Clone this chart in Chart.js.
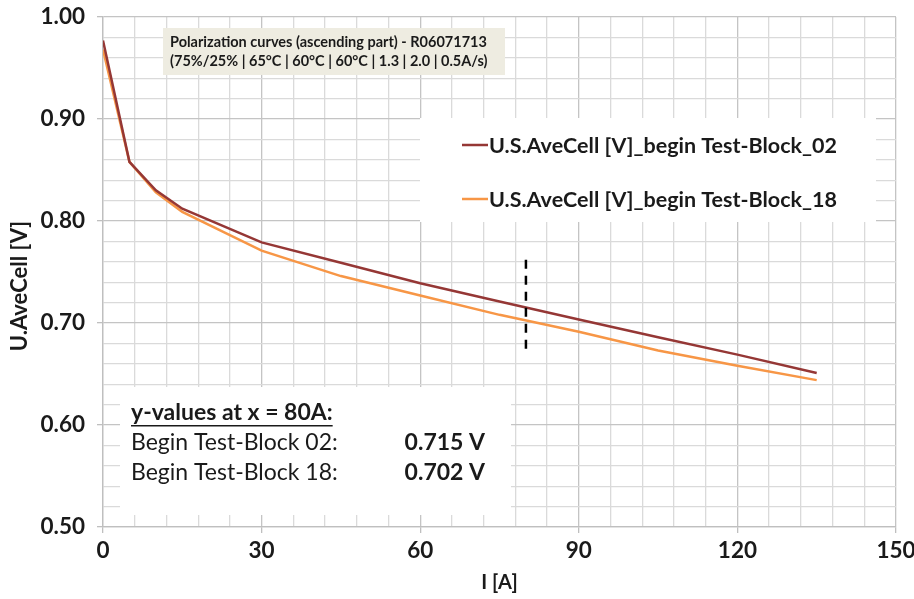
<!DOCTYPE html>
<html>
<head>
<meta charset="utf-8">
<script src="https://cdn.jsdelivr.net/npm/chart.js@4/dist/chart.umd.min.js"></script>
<style>
  html, body { margin: 0; padding: 0; background: #fff; }
  canvas { display: block; }
</style>
</head>
<body>
<canvas id="polChart" width="914" height="599"></canvas>
<script>
// current steps [A]
const currents = [0, 5, 10, 15, 30, 45, 60, 75, 90, 105, 120, 135];
// average cell voltage [V] per test block
const voltBlock02 = [0.977, 0.858, 0.830, 0.812, 0.779, 0.759, 0.739, 0.721, 0.7035, 0.686, 0.669, 0.651];
const voltBlock18 = [0.968, 0.858, 0.828, 0.809, 0.771, 0.746, 0.727, 0.708, 0.6915, 0.673, 0.658, 0.644];
const seriesNames = ['U.S.AveCell [V]_begin Test-Block_02', 'U.S.AveCell [V]_begin Test-Block_18'];

// vertical marker at 80 A
const markerX = [80, 80];
const markerY = [0.762, 0.670];

const infoTitle = ['Polarization curves (ascending part) - R06071713', '(75%/25% | 65°C | 60°C | 60°C | 1.3 | 2.0 | 0.5A/s)'];
const infoHead = 'y-values at x = 80A:';
const infoRows = [['Begin Test-Block 02:', '0.715 V'], ['Begin Test-Block 18:', '0.702 V']];

const xTicks = [0, 30, 60, 90, 120, 150];
const yTicks = [0.5, 0.6, 0.7, 0.8, 0.9, 1.0];
const yTitle = 'U.AveCell [V]';

const FONT = 'Lato, "Liberation Sans", sans-serif';
const C02 = '#953735';
const C18 = '#f79646';
const TXT = '#1a1a1a';

function toPoints(xs, ys) {
  return xs.map((x, i) => ({ x: x, y: ys[i] }));
}
function isMajorX(v) { return xTicks.some(t => Math.abs(t - v) < 1e-6); }
function isMajorY(v) { return yTicks.some(t => Math.abs(t - v) < 1e-6); }

// boxes drawn over the grid, under the curves
const boxesPlugin = {
  id: 'boxes',
  beforeDatasetsDraw(chart) {
    const ctx = chart.ctx;
    ctx.save();
    ctx.textBaseline = 'middle';
    ctx.textAlign = 'left';

    // header box
    ctx.fillStyle = '#eeece1';
    ctx.fillRect(163, 28, 342, 47);
    ctx.fillStyle = TXT;
    ctx.font = 'bold 14.5px ' + FONT;
    ctx.fillText(infoTitle[0], 170, 42);
    ctx.fillText(infoTitle[1], 170, 61);

    // legend box
    ctx.fillStyle = '#ffffff';
    ctx.fillRect(420, 118, 456, 104);
    const legY = [145, 199];
    const legCol = [C02, C18];
    ctx.font = 'bold 21.5px ' + FONT;
    for (let i = 0; i < 2; i++) {
      ctx.strokeStyle = legCol[i];
      ctx.lineWidth = 2.5;
      ctx.beginPath();
      ctx.moveTo(462, legY[i]);
      ctx.lineTo(488, legY[i]);
      ctx.stroke();
      ctx.fillStyle = TXT;
      ctx.fillText(seriesNames[i], 489, legY[i] + 1);
    }

    // values at 80 A
    ctx.fillStyle = '#ffffff';
    ctx.fillRect(120, 387, 391, 128);
    ctx.fillStyle = TXT;
    ctx.font = 'bold 23px ' + FONT;
    ctx.fillText(infoHead, 131, 413);
    const w = ctx.measureText(infoHead).width;
    ctx.fillRect(131, 425, w, 1.5);
    const rowY = [443, 473];
    for (let i = 0; i < infoRows.length; i++) {
      ctx.font = '23px ' + FONT;
      ctx.textAlign = 'left';
      ctx.fillText(infoRows[i][0], 131, rowY[i]);
      ctx.font = 'bold 23px ' + FONT;
      ctx.textAlign = 'right';
      ctx.fillText(infoRows[i][1], 485, rowY[i]);
    }
    ctx.restore();
  },
  afterDraw(chart) {
    // y-axis title, sits a bit below the axis centre
    const ctx = chart.ctx;
    ctx.save();
    ctx.translate(20, 286);
    ctx.rotate(-Math.PI / 2);
    ctx.fillStyle = TXT;
    ctx.font = 'bold 22px ' + FONT;
    ctx.textAlign = 'center';
    ctx.textBaseline = 'middle';
    ctx.fillText(yTitle, 0, 0);
    ctx.restore();
  }
};

const ctx = document.getElementById('polChart').getContext('2d');
new Chart(ctx, {
  type: 'scatter',
  data: {
    datasets: [
      {
        label: seriesNames[0],
        data: toPoints(currents, voltBlock02),
        showLine: true,
        borderColor: C02,
        borderWidth: 2.5,
        pointRadius: 0,
        order: 2
      },
      {
        label: seriesNames[1],
        data: toPoints(currents, voltBlock18),
        showLine: true,
        borderColor: C18,
        borderWidth: 2.5,
        pointRadius: 0,
        order: 3
      },
      {
        label: 'x = 80A',
        data: toPoints(markerX, markerY),
        showLine: true,
        borderColor: '#000000',
        borderWidth: 2.5,
        borderDash: [9, 7],
        pointRadius: 0,
        order: 1
      }
    ]
  },
  options: {
    responsive: false,
    animation: false,
    layout: { padding: { top: 17, right: 0, left: 0, bottom: 0 } },
    plugins: {
      legend: { display: false },
      tooltip: { enabled: false }
    },
    scales: {
      x: {
        type: 'linear',
        min: 0,
        max: 150,
        afterFit(scale) {
          scale.height = 72;
          scale.paddingLeft = 0;
          scale.paddingRight = 18;
        },
        ticks: {
          stepSize: 6,
          autoSkip: false,
          maxRotation: 0,
          padding: 4,
          color: TXT,
          font: { family: FONT, size: 22.5, weight: 'bold' },
          callback: v => isMajorX(v) ? String(Math.round(v)) : ''
        },
        grid: {
          color: c => isMajorX(c.tick.value) ? '#c4c4c4' : '#dadada',
          tickColor: c => isMajorX(c.tick.value) ? '#bfbfbf' : 'rgba(0,0,0,0)',
          tickLength: 6,
          lineWidth: 1.3
        },
        border: { color: '#bfbfbf', width: 1.3 },
        title: {
          display: true,
          text: 'I [A]',
          color: TXT,
          font: { family: FONT, size: 20, weight: 'bold' },
          padding: { top: 2, bottom: 4 }
        }
      },
      y: {
        type: 'linear',
        min: 0.5,
        max: 1.0,
        afterFit(scale) {
          scale.width = 103;
          scale.paddingTop = 0;
          scale.paddingBottom = 0;
        },
        ticks: {
          stepSize: 0.02,
          autoSkip: false,
          padding: 12,
          color: TXT,
          font: { family: FONT, size: 22.5, weight: 'bold' },
          callback: v => isMajorY(v) ? v.toFixed(2) : ''
        },
        grid: {
          color: c => isMajorY(c.tick.value) ? '#c4c4c4' : '#dadada',
          tickColor: c => isMajorY(c.tick.value) ? '#bfbfbf' : 'rgba(0,0,0,0)',
          tickLength: 6,
          lineWidth: 1.3
        },
        border: { color: '#bfbfbf', width: 1.3 }
      }
    }
  },
  plugins: [boxesPlugin]
});
</script>
</body>
</html>
